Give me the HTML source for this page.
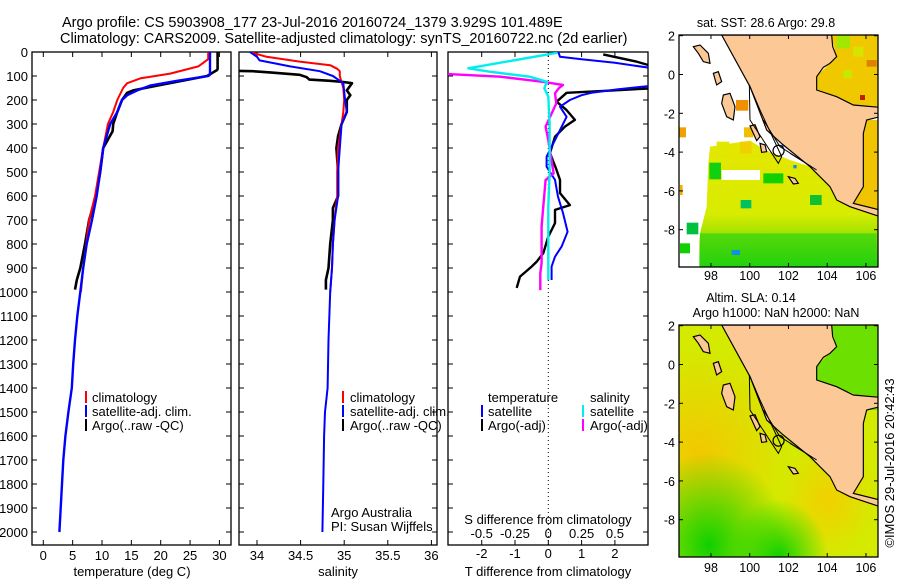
<!DOCTYPE html>
<html><head><meta charset="utf-8"><style>
html,body{margin:0;padding:0;background:#fff;}
svg{display:block;font-family:"Liberation Sans",sans-serif;}
text{font-size:13px;fill:#000;}
</style></head><body>
<svg id="fig" width="900" height="580" viewBox="0 0 900 580">
<defs>
<clipPath id="c1"><rect x="32" y="52" width="199" height="493"/></clipPath>
<clipPath id="c2"><rect x="239" y="52" width="198" height="493"/></clipPath>
<clipPath id="c3"><rect x="448" y="52" width="200" height="493"/></clipPath>
<clipPath id="cm1"><rect x="679" y="35" width="199" height="232"/></clipPath>
<clipPath id="cm2"><rect x="679" y="325" width="199" height="232"/></clipPath>
<linearGradient id="g1" x1="0" y1="0" x2="0" y2="1"><stop offset="0" stop-color="#e6e600"/><stop offset="0.55" stop-color="#d8ec00"/><stop offset="0.75" stop-color="#90e000"/><stop offset="1" stop-color="#10d010"/></linearGradient>
<radialGradient id="r1" cx="0.1" cy="0.55" r="0.45"><stop offset="0" stop-color="#f2c800"/><stop offset="1" stop-color="#f2c800" stop-opacity="0"/></radialGradient>
<radialGradient id="r2" cx="0.15" cy="0.95" r="0.4"><stop offset="0" stop-color="#10d000"/><stop offset="1" stop-color="#10d000" stop-opacity="0"/></radialGradient>
<radialGradient id="r3" cx="0.5" cy="1" r="0.25"><stop offset="0" stop-color="#10d000"/><stop offset="1" stop-color="#10d000" stop-opacity="0"/></radialGradient>
<radialGradient id="r4" cx="0.75" cy="0.75" r="0.25"><stop offset="0" stop-color="#f2d000"/><stop offset="1" stop-color="#f2d000" stop-opacity="0"/></radialGradient>
</defs>

<text x="62" y="27" style="font-size:14.5px">Argo profile: CS 5903908_177 23-Jul-2016 20160724_1379 3.929S 101.489E</text>
<text x="60" y="43" style="font-size:14.5px">Climatology: CARS2009. Satellite-adjusted climatology: synTS_20160722.nc (2d earlier)</text>

<g id="axes"></g>
<g id="series"></g>

<!-- legends -->
<g>
<rect x="85" y="391" width="2" height="12" fill="#f00"/><text x="92" y="402">climatology</text>
<rect x="85" y="405" width="2" height="12" fill="#00f"/><text x="92" y="416">satellite-adj. clim.</text>
<rect x="85" y="419" width="2" height="12" fill="#000"/><text x="92" y="430">Argo(..raw -QC)</text>
</g>
<g>
<rect x="342" y="391" width="2" height="12" fill="#f00"/><text x="350" y="402">climatology</text>
<rect x="342" y="405" width="2" height="12" fill="#00f"/><text x="350" y="416">satellite-adj. clim.</text>
<rect x="342" y="419" width="2" height="12" fill="#000"/><text x="350" y="430">Argo(..raw -QC)</text>
</g>
<text x="331" y="517">Argo Australia</text>
<text x="331" y="531">PI: Susan Wijffels</text>
<g>
<text x="488" y="402">temperature</text><text x="590" y="402">salinity</text>
<rect x="481" y="405" width="2" height="12" fill="#00f"/><text x="488" y="416">satellite</text>
<rect x="481" y="419" width="2" height="12" fill="#000"/><text x="488" y="430">Argo(-adj)</text>
<rect x="582" y="405" width="2" height="12" fill="#0ee"/><text x="590" y="416">satellite</text>
<rect x="582" y="419" width="2" height="12" fill="#f0f"/><text x="590" y="430">Argo(-adj)</text>
</g>
<text x="548" y="524" text-anchor="middle">S difference from climatology</text>
<text x="132" y="576" text-anchor="middle">temperature (deg C)</text>
<text x="338" y="576" text-anchor="middle">salinity</text>
<text x="548" y="576" text-anchor="middle">T difference from climatology</text>

<!-- SST map -->
<text x="766" y="27" text-anchor="middle" style="font-size:12.5px">sat. SST: 28.6 Argo: 29.8</text>
<g clip-path="url(#cm1)">
<rect x="679" y="35" width="199" height="232" fill="#fff"/>
<g transform="translate(650,20) scale(0.33333)">
<polygon points="180,380 300,362 350,392 420,420 480,440 540,500 580,545 700,580 700,760 140,760 150,640 170,560 175,430" fill="url(#g1)"/>
<polygon points="540,40 700,40 700,262 610,255 560,232 500,212 498,170 540,130 560,110" fill="#f0c800"/>
<polygon points="636,300 700,300 700,575 600,560 640,500" fill="#f0c400"/>
<rect x="560" y="45" width="40" height="40" fill="#a0e800"/><rect x="610" y="80" width="30" height="30" fill="#d8e400"/>
<rect x="580" y="150" width="25" height="25" fill="#c8e800"/><rect x="630" y="225" width="15" height="15" fill="#c02000"/>
<rect x="650" y="120" width="30" height="20" fill="#e08000"/>
<rect x="258" y="240" width="37" height="32" fill="#f09000"/><rect x="88" y="322" width="20" height="30" fill="#f0a000"/>
<rect x="408" y="45" width="32" height="20" fill="#d05000"/><rect x="282" y="322" width="28" height="30" fill="#f0c000"/>
<rect x="200" y="365" width="38" height="33" fill="#e0e800"/><rect x="270" y="365" width="35" height="35" fill="#f0d000"/>
<rect x="215" y="450" width="115" height="30" fill="#fff"/><rect x="88" y="610" width="60" height="130" fill="#fff"/>
<rect x="110" y="608" width="35" height="35" fill="#00c040"/><rect x="90" y="670" width="30" height="30" fill="#10d000"/>
<rect x="178" y="428" width="35" height="50" fill="#10d010"/><rect x="272" y="540" width="32" height="25" fill="#00c060"/>
<rect x="340" y="460" width="60" height="30" fill="#10d000"/><rect x="480" y="525" width="35" height="30" fill="#10c030"/>
<rect x="150" y="640" width="530" height="100" fill="#20d010" opacity="0.6"/>
<rect x="245" y="690" width="25" height="15" fill="#1090e0"/><rect x="430" y="435" width="10" height="10" fill="#1090e0"/>
<rect x="395" y="365" width="12" height="15" fill="#1070e0"/><rect x="90" y="495" width="8" height="30" fill="#f0b000"/>
</g>
</g>
<g id="land1"></g>

<!-- SLA map -->
<text x="751" y="302" text-anchor="middle" style="font-size:12.5px">Altim. SLA: 0.14</text>
<text x="776" y="317" text-anchor="middle" style="font-size:12.5px">Argo h1000: NaN h2000: NaN</text>
<g clip-path="url(#cm2)">
<rect x="679" y="325" width="199" height="232" fill="#d4ea00"/>
<rect x="679" y="325" width="199" height="232" fill="url(#r1)"/>
<rect x="679" y="325" width="199" height="232" fill="url(#r4)"/>
<rect x="679" y="325" width="199" height="232" fill="url(#r2)"/>
<rect x="679" y="325" width="199" height="232" fill="url(#r3)"/>
<g transform="translate(650,310) scale(0.33333)">
<polygon points="540,40 700,40 700,300 640,300 640,262 560,232 500,212 498,170 540,130 560,110" fill="#6ce000"/>
</g>
</g>
<g id="land2"></g>
<g id="maps-axes"></g>
<text transform="translate(894,463) rotate(-90)" text-anchor="middle" style="font-size:13px">©IMOS 29-Jul-2016 20:42:43</text>
</svg>
<script>
// ---- data ----
const tClimDepth = [0,30,60,90,110,130,150,200,250,300,400,500,600,700,800,900,1000];
const tClimVal   = [28.1,28.1,26.4,21.6,16.5,14.3,13.6,12.6,11.9,11.0,10.2,9.5,8.8,7.8,7.3,6.8,6.4];
const tSatDepth = [0,95,100,120,140,160,180,200,250,300,400,500,600,700,800,900,1000,1100,1200,1300,1400,1500,1600,1700,1800,1900,2000];
const tSatVal   = [28.4,28.4,28.1,22.8,18.2,16.0,14.3,13.4,12.6,11.4,10.2,9.7,9.1,8.3,7.4,6.8,6.3,5.8,5.4,5.1,4.86,4.28,3.76,3.4,3.18,2.96,2.74];
const tArgoDepth = [0,70,75,100,120,140,160,170,200,250,300,330,400,500,600,700,800,900,950,990];
const tArgoVal   = [29.7,29.7,29.6,27.9,23.6,19.4,15.3,14.3,13.4,12.6,11.9,11.8,10.2,9.7,9.0,7.8,7.1,6.3,5.7,5.4];

const sClimDepth = [0,20,40,55,70,80,100,150,200,250,300,400,500,600,700,800,900,1000];
const sClimVal   = [33.92,34.11,34.49,34.84,34.92,34.95,34.95,34.99,35.0,34.99,34.97,34.93,34.92,34.92,34.89,34.87,34.86,34.84];
const sSatDepth = [0,20,35,60,80,100,130,200,250,300,400,500,600,700,800,900,1000,1200,1400,1500,1600,1800,2000];
const sSatVal   = [33.92,34.0,34.03,34.38,34.72,34.87,34.99,35.01,35.03,34.97,34.95,34.93,34.93,34.89,34.87,34.86,34.84,34.82,34.81,34.78,34.77,34.76,34.75];
const sArgoDepth = [78,80,85,95,105,115,120,125,130,140,160,180,200,250,300,350,400,500,600,650,700,800,900,950,990];
const sArgoVal   = [33.7,33.95,34.15,34.49,34.57,34.6,34.84,34.99,35.09,35.07,35.03,35.07,35.03,35.03,34.97,34.93,34.91,34.93,34.93,34.87,34.87,34.84,34.82,34.79,34.79];

const dTSatDepth = [0,20,30,45,65,70,138,142,155,170,180,200,228,270,367,436,478,533,603,671,749,811,853,894,950];
const dTSatVal   = [0.3,0.35,1.0,2.0,3.0,4.0,4.0,3.0,2.1,1.3,1.0,0.65,0.35,0.55,0.2,-0.05,-0.05,0.2,0.29,0.44,0.58,0.4,0.2,0.1,0.1];
const dTArgoDepth = [10,40,54,60,148,152,160,170,207,242,283,311,353,421,492,533,588,638,658,713,769,838,874,894,936,983];
const dTArgoVal   = [1.65,2.65,3.0,4.0,4.0,3.0,1.95,0.55,0.25,0.55,0.8,0.5,0.2,0.05,0.25,0.35,0.35,0.65,0.2,0.2,0.0,-0.15,-0.35,-0.5,-0.85,-0.95];
const dSSatDepth = [3,68,82,103,124,151,186,297,505,644,950];
const dSSatVal   = [0.07,-0.6,-0.44,-0.14,-0.01,-0.03,0.0,0.01,0.01,0.0,0.0];
const dSArgoDepth = [88,92,103,124,137,150,172,214,311,367,506,533,658,728,880,922,992];
const dSArgoVal   = [-0.9,-0.75,-0.36,-0.04,0.11,0.08,0.05,0.06,-0.02,0.0,0.04,-0.02,-0.04,-0.05,-0.05,-0.06,-0.06];

const depthTicks = [0,100,200,300,400,500,600,700,800,900,1000,1100,1200,1300,1400,1500,1600,1700,1800,1900,2000];
const tempTicks = [0,5,10,15,20,25,30];
const salTicks = [34,34.5,35,35.5,36];
const tDiffTicks = [-2,-1,0,1,2];
const sDiffTicks = ["-0.5","-0.25","0","0.25","0.5"];
const lonTicks = [98,100,102,104,106];
const latTicks = [2,0,-2,-4,-6,-8];
const argoLon = 101.489, argoLat = -3.929;

// ---- scales ----
const yD = d => 52 + d * 0.24;
const xT = t => 43.3 + 5.87 * t;
const xS = s => 257 + 87.2 * (s - 34);
const xDT = v => 548.3 + 33.3 * v;
const xDS = v => 548.3 + 133.3 * v;
const mx = lon => 679 + (lon - 96.35) * 19.375;
const my1 = lat => 74.5 - lat * 19.4;
const my2 = lat => 364.5 - lat * 19.4;

const NS = 'http://www.w3.org/2000/svg';
function mk(tag, attrs, parent) {
  const e = document.createElementNS(NS, tag);
  for (const k in attrs) e.setAttribute(k, attrs[k]);
  parent.appendChild(e);
  return e;
}
const axes = document.getElementById('axes');
const series = document.getElementById('series');

// panels
const panels = [[32,52,199,493,'temperature-panel'],[239,52,198,493,'salinity-panel'],[448,52,200,493,'difference-panel']];
panels.forEach(p => {
  const r = mk('rect', {x:p[0], y:p[1], width:p[2], height:p[3], fill:'none', stroke:'#000', 'stroke-width':1.3}, axes);
  
  
});
// depth ticks & labels
depthTicks.forEach(d => {
  const y = yD(d);
  panels.forEach(p => {
    mk('line', {x1:p[0], x2:p[0]+5, y1:y, y2:y, stroke:'#000'}, axes);
    mk('line', {x1:p[0]+p[2]-5, x2:p[0]+p[2], y1:y, y2:y, stroke:'#000'}, axes);
  });
  const t = mk('text', {x:28, y:y+5, 'text-anchor':'end'}, axes);
  t.textContent = d;
  
  
});
function xticks(vals, fx, labels, ly) {
  vals.forEach((v, i) => {
    const x = fx(v);
    mk('line', {x1:x, x2:x, y1:52, y2:57, stroke:'#000'}, axes);
    mk('line', {x1:x, x2:x, y1:540, y2:545, stroke:'#000'}, axes);
    const t = mk('text', {x:x, y:ly, 'text-anchor':'middle'}, axes);
    t.textContent = labels[i];
    
    
  });
}
xticks(tempTicks, xT, tempTicks, 560);
xticks(salTicks, xS, salTicks, 560);
xticks(tDiffTicks, xDT, tDiffTicks, 558);
tDiffTicks.forEach((v, i) => {
  const t = mk('text', {x:xDT(v), y:538, 'text-anchor':'middle'}, axes);
  t.textContent = sDiffTicks[i];
  
  
});
mk('line', {x1:xDT(0), x2:xDT(0), y1:52, y2:545, stroke:'#000', 'stroke-dasharray':'1 3'}, axes);

function line(dep, val, fx, color, w, clip, name) {
  const pts = dep.map((d, i) => fx(val[i]).toFixed(1) + ',' + yD(d).toFixed(1)).join(' ');
  const g = mk('g', {'clip-path':'url(#' + clip + ')'}, series);
  const pl = mk('polyline', {points:pts, fill:'none', stroke:color, 'stroke-width':w, 'stroke-linejoin':'round'}, g);
  
  
}
line(tArgoDepth, tArgoVal, xT, '#000', 2.6, 'c1', 'temp-argo-line');
line(tClimDepth, tClimVal, xT, '#f00', 2, 'c1', 'temp-climatology-line');
line(tSatDepth, tSatVal, xT, '#00f', 2.4, 'c1', 'temp-satellite-line');
line(sArgoDepth, sArgoVal, xS, '#000', 2.6, 'c2', 'salinity-argo-line');
line(sClimDepth, sClimVal, xS, '#f00', 2, 'c2', 'salinity-climatology-line');
line(sSatDepth, sSatVal, xS, '#00f', 2, 'c2', 'salinity-satellite-line');
line(dTArgoDepth, dTArgoVal, xDT, '#000', 2.4, 'c3', 'tdiff-argo-line');
line(dTSatDepth, dTSatVal, xDT, '#00f', 2, 'c3', 'tdiff-satellite-line');
line(dSArgoDepth, dSArgoVal, xDS, '#f0f', 2.4, 'c3', 'sdiff-argo-line');
line(dSSatDepth, dSSatVal, xDS, '#0ee', 2.4, 'c3', 'sdiff-satellite-line');

// ---- map land (outline geometry, zoom coordinates) ----
const landPts = "215,45 545,45 548,80 560,110 540,130 520,142 500,170 500,210 560,230 610,255 690,262 690,290 650,300 640,340 640,500 610,550 690,570 690,590 600,560 560,540 540,500 480,440 400,375 350,330 300,200";
const islands = ["130,80 150,75 175,100 180,130 160,125 145,100","220,225 240,220 255,260 250,300 230,290 215,250","190,160 205,155 215,185 200,195","300,318 315,314 330,350 320,362","330,370 345,375 350,395 335,397","415,470 435,475 445,490 430,492"];
function drawLand(id, ty, clip) {
  const g = mk('g', {'clip-path':'url(#' + clip + ')'}, document.getElementById(id));
  const t = mk('g', {transform:'translate(650,' + ty + ') scale(0.33333)'}, g);
  mk('polygon', {points:landPts, fill:'#fcc896', stroke:'#000', 'stroke-width':3.5}, t);
  islands.forEach(p => mk('polygon', {points:p, fill:'#fcc896', stroke:'#000', 'stroke-width':3.5}, t));
  mk('polyline', {points:"298,195 300,300 385,430 395,410 330,270 298,195", fill:'none', stroke:'#000', 'stroke-width':3}, t);
  mk('polyline', {points:"340,300 390,380 500,450 420,400", fill:'none', stroke:'#000', 'stroke-width':3}, t);
}
drawLand('land1', 20, 'cm1');
drawLand('land2', 310, 'cm2');

// ---- map axes ----
const ma = document.getElementById('maps-axes');
[[35, my1, 280], [325, my2, 572]].forEach((m, k) => {
  const r = mk('rect', {x:679, y:m[0], width:199, height:232, fill:'none', stroke:'#000', 'stroke-width':1.3}, ma);
  
  
  lonTicks.forEach(lon => {
    const x = mx(lon);
    mk('line', {x1:x, x2:x, y1:m[0], y2:m[0]+4, stroke:'#000'}, ma);
    mk('line', {x1:x, x2:x, y1:m[0]+228, y2:m[0]+232, stroke:'#000'}, ma);
    const t = mk('text', {x:x, y:m[2], 'text-anchor':'middle', style:'font-size:12.5px'}, ma);
    t.textContent = lon;
    
    
  });
  latTicks.forEach(lat => {
    const y = m[1](lat);
    mk('line', {x1:679, x2:683, y1:y, y2:y, stroke:'#000'}, ma);
    mk('line', {x1:874, x2:878, y1:y, y2:y, stroke:'#000'}, ma);
    const t = mk('text', {x:675, y:y+5, 'text-anchor':'end', style:'font-size:12.5px'}, ma);
    t.textContent = lat;
    
    
  });
  const c = mk('circle', {cx:mx(argoLon), cy:m[1](argoLat), r:5.5, fill:'none', stroke:'#000', 'stroke-width':1.2}, ma);
  
  
});
</script>
</body></html>
